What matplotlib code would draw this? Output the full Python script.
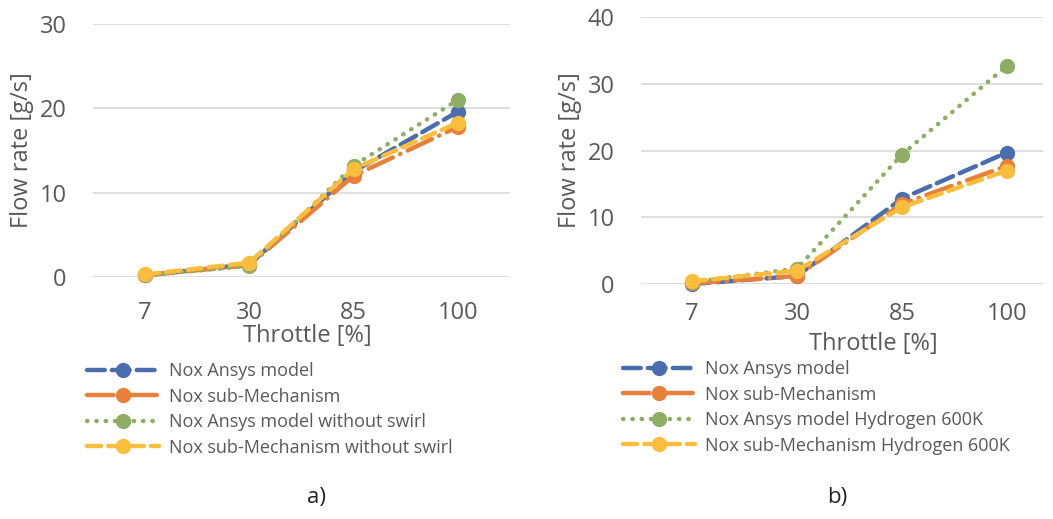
import matplotlib.pyplot as plt
import numpy as np

plt.rcParams['font.family'] = ['Open Sans', 'DejaVu Sans']

throttle = ['7', '30', '85', '100']

# panel a)
a_ansys = [0.2, 1.5, 12.5, 19.6]
a_sub = [0.2, 1.4, 12.0, 17.8]
a_ansys_noswirl = [0.2, 1.3, 13.2, 21.0]
a_sub_noswirl = [0.3, 1.7, 12.8, 18.3]
a_labels = ['Nox Ansys model', 'Nox sub-Mechanism',
            'Nox Ansys model without swirl', 'Nox sub-Mechanism without swirl']

# panel b)
b_ansys = [0.0, 1.2, 12.8, 19.7]
b_sub = [0.1, 1.2, 12.0, 17.7]
b_ansys_h2 = [0.3, 2.3, 19.4, 32.7]
b_sub_h2 = [0.4, 2.0, 11.5, 17.0]
b_labels = ['Nox Ansys model', 'Nox sub-Mechanism',
            'Nox Ansys model Hydrogen 600K', 'Nox sub-Mechanism Hydrogen 600K']

colors = ['#4A6EAD', '#E8803A', '#8FAE65', '#FBBD3C']
styles = [(0, (4, 1.6)), (0, (6, 1.8, 0.1, 1.8)), (0, (0.1, 2.0)), (0, (3.2, 1.6))]
text_col = '#595959'

fig = plt.figure(figsize=(10.53, 5.19), dpi=100)
W, H = 1053, 519


def panel(rect, series, labels, ymax, xlim, leg_xy, xlab_xy, ylab_xy, tag_xy, tag, xpad):
    ax = fig.add_axes(rect)
    x = np.arange(len(throttle))
    lines = []
    for vals, c, ls in zip(series, colors, styles):
        ln, = ax.plot(x, vals, color=c, lw=3.2, ls=ls, dash_capstyle='round',
                      marker='o', ms=10, mec=c, mfc=c, clip_on=False, zorder=3)
        lines.append(ln)
    ax.set_ylim(0, ymax)
    ax.set_xlim(*xlim)
    ax.set_yticks(np.arange(0, ymax + 1, 10))
    ax.set_xticks(x)
    ax.set_xticklabels(throttle)
    for s in ax.spines.values():
        s.set_visible(False)
    ax.grid(axis='y', color='#D9D9D9', lw=1.2)
    ax.set_axisbelow(True)
    ax.tick_params(length=0, labelsize=17, colors=text_col, pad=xpad)
    ax.tick_params(axis='y', pad=19)
    fig.text(xlab_xy[0] / W, 1 - xlab_xy[1] / H, 'Throttle [%]', fontsize=17,
             color=text_col, ha='center', va='center')
    fig.text(ylab_xy[0] / W, 1 - ylab_xy[1] / H, 'Flow rate [g/s]', fontsize=17,
             color=text_col, ha='center', va='center', rotation=90)
    fig.text(tag_xy[0] / W, 1 - tag_xy[1] / H, tag, fontsize=16, color='#222222',
             ha='center', va='center')
    fig.legend(lines, labels, loc='upper left',
               bbox_to_anchor=(leg_xy[0] / W, 1 - leg_xy[1] / H),
               frameon=False, fontsize=13, labelcolor=text_col, handlelength=4.0,
               handletextpad=0.55, labelspacing=0.42, borderpad=0, borderaxespad=0,
               numpoints=1)
    return ax


panel([93 / W, 1 - 277 / H, 417 / W, 253 / H],
      [a_ansys, a_sub, a_ansys_noswirl, a_sub_noswirl], a_labels, 30, (-0.5, 3.5),
      (87, 362), (307, 336), (22, 150), (317, 497), 'a)', 17)
panel([641 / W, 1 - 284 / H, 402 / W, 267 / H],
      [b_ansys, b_sub, b_ansys_h2, b_sub_h2], b_labels, 40, (-0.486, 3.343),
      (623, 360), (873, 344), (570, 150), (837, 497), 'b)', 13)

fig.savefig('out.png', dpi=100)
